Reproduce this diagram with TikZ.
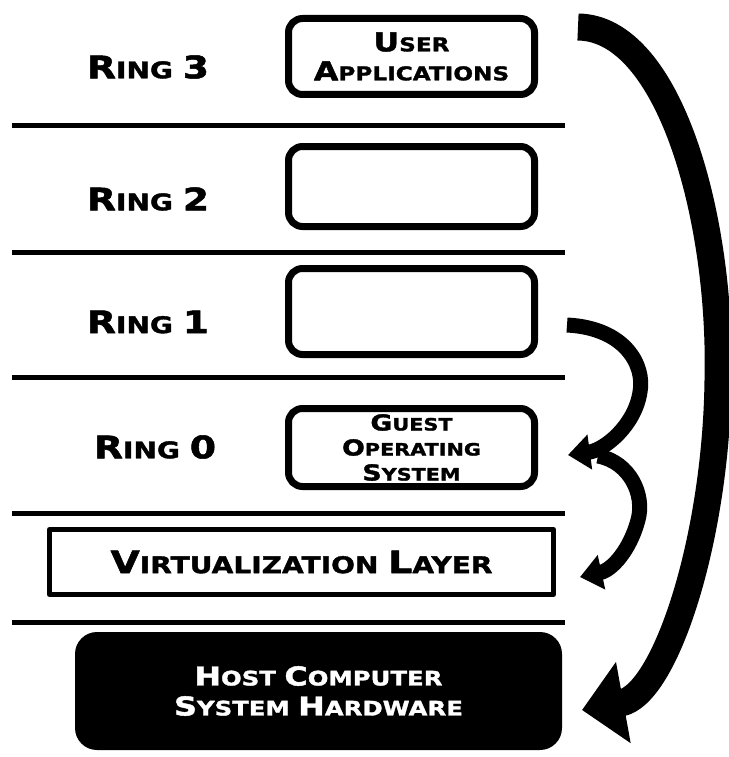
\documentclass[tikz,border=0pt]{standalone}
\usepackage{fontspec}
\newfontfamily\ringfont{DejaVu Sans}[FakeStretch=1.22,FakeBold=1.6]
\usetikzlibrary{arrows.meta,positioning}
\tikzset{every picture/.style={line cap=round, line join=round}}
\tikzset{ringbox/.style={draw, rectangle, rounded corners=14pt, line width=7pt,
  minimum width=246pt, minimum height=80pt, align=center, inner sep=0pt,
  font=\ringfont\bfseries\fontsize{19}{29}\selectfont}}
\tikzset{ringlabel/.style={font=\ringfont\bfseries\fontsize{23}{23}\selectfont}}
\tikzset{sep/.style={draw, line width=5pt, line cap=butt}}
\tikzset{flow/.style={line width=15pt, line cap=butt, -{Triangle[length=22pt,width=34pt]}}}
\tikzset{bigflow/.style={line width=27pt, line cap=butt, -{Triangle[length=42pt,width=80pt]}}}
\newcommand{\lead}[2][31]{{\fontsize{#1}{#1}\selectfont #2}}

\begin{document}
\begin{tikzpicture}[x=1pt,y=-1pt]
  \useasboundingbox (0,0) rectangle (728,757);

  % Ring labels
  \node[ringlabel] (lab3) at (148,67) {\lead{R}ING \lead{3}};
  \node[ringlabel] (lab2) at (148,199) {\lead{R}ING \lead{2}};
  \node[ringlabel] (lab1) at (148,322) {\lead{R}ING \lead{1}};
  \node[ringlabel] (lab0) at (155,447) {\lead{R}ING \lead{0}};

  % Ring boxes
  \node[ringbox, minimum height=76pt] (apps) at (411.5,56.5) {\lead[26]{U}SER\\\lead[26]{A}PPLICATIONS};
  \node[ringbox, minimum height=80pt] (ring2) at (411.5,186.5) {};
  \node[ringbox, minimum height=86pt] (ring1) at (411.5,311.5) {};
  \node[ringbox, minimum height=78pt, font=\ringfont\bfseries\fontsize{17}{25}\selectfont]
    (guest) at (411.5,447.5) {\lead[22]{G}UEST\\\lead[22]{O}PERATING\\\lead[22]{S}YSTEM};

  % Separators
  \foreach \y in {126,252,377,513,622}
    \draw[sep] (12,\y) -- (565,\y);

  % Virtualization layer
  \node[draw, line width=5pt, minimum width=504pt, minimum height=65pt, inner sep=0pt,
    ringlabel] (vmm) at (301.5,562) {\lead{V}IRTUALIZATION \lead{L}AYER};

  % Hardware
  \node[fill=black, rounded corners=22pt, minimum width=487pt, minimum height=118pt,
    align=center, text=white, font=\ringfont\bfseries\fontsize{20}{30}\selectfont]
    (hw) at (318.5,691) {\lead[26]{H}OST \lead[26]{C}OMPUTER\\\lead[26]{S}YSTEM \lead[26]{H}ARDWARE};

  % Arrows
  \coordinate (r3out) at (578,27);
  \coordinate (hwin) at (582,710);
  \coordinate (r1out) at (567,325);
  \coordinate (r0in) at (568,455);
  \coordinate (r0out) at (598,456);
  \coordinate (vmmin) at (580,577);
  \draw[bigflow] (r3out) .. controls (670,28) and (722,220) .. (718,380)
    .. controls (716,540) and (665,695) .. (hwin);
  \draw[flow] (r1out) .. controls (625,328) and (645,365) .. (640,392)
    .. controls (635,425) and (605,450) .. (r0in);
  \draw[flow] (r0out) .. controls (630,462) and (645,495) .. (638,520)
    .. controls (630,550) and (612,570) .. (vmmin);
\end{tikzpicture}
\end{document}
